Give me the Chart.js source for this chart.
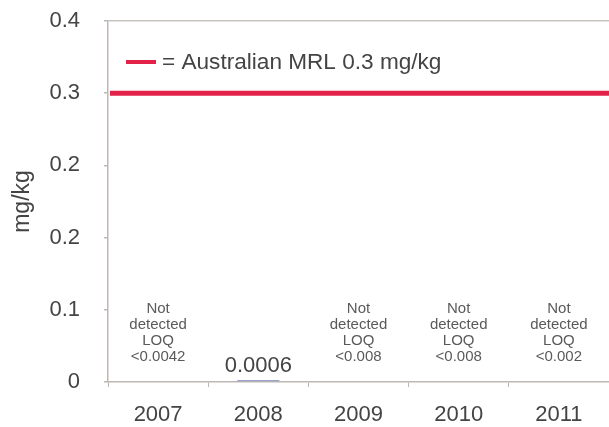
<!DOCTYPE html>
<html>
<head>
<meta charset="utf-8">
<script src="https://cdn.jsdelivr.net/npm/chart.js@4"></script>
<style>
  html, body { margin: 0; padding: 0; background: #ffffff; }
  #wrap { width: 609px; height: 427px; }
</style>
</head>
<body>
<div id="wrap"><canvas id="chart" width="609" height="427"></canvas></div>
<script>
// Residue results by year (mg/kg)
const categories = ['2007', '2008', '2009', '2010', '2011'];
const residues = [null, 0.0006, null, null, null];
const notDetectedNotes = [
  ['Not', 'detected', 'LOQ', '<0.0042'],
  null,
  ['Not', 'detected', 'LOQ', '<0.008'],
  ['Not', 'detected', 'LOQ', '<0.008'],
  ['Not', 'detected', 'LOQ', '<0.002']
];
const mrlValue = 0.3;
const mrlLabel = '= Australian MRL ' + mrlValue + ' mg/kg';
const yTickValues = [0, 0.075, 0.15, 0.225, 0.3, 0.375];
const yTickLabels = ['0', '0.1', '0.2', '0.2', '0.3', '0.4'];

const FONT = "'Liberation Sans', Arial, Helvetica, sans-serif";
const TEXT = '#444444';
const RED = '#e3224a';
const AXIS = '#bdb8b4';

// MRL reference line, legend key, value labels and "not detected" notes
const annotations = {
  id: 'annotations',
  afterDatasetsDraw(chart) {
    const { ctx, chartArea, scales } = chart;
    const x = scales.x, y = scales.y;
    ctx.save();

    // MRL line
    const yMrl = y.getPixelForValue(mrlValue);
    ctx.strokeStyle = RED;
    ctx.lineWidth = 5;
    ctx.beginPath();
    ctx.moveTo(chartArea.left + 2, yMrl);
    ctx.lineTo(chartArea.right, yMrl);
    ctx.stroke();

    // legend key
    const ly = chartArea.top + 41;
    ctx.lineWidth = 4;
    ctx.beginPath();
    ctx.moveTo(chartArea.left + 18, ly);
    ctx.lineTo(chartArea.left + 48, ly);
    ctx.stroke();
    ctx.fillStyle = TEXT;
    ctx.font = '22.6px ' + FONT;
    ctx.textAlign = 'left';
    ctx.textBaseline = 'middle';
    ctx.fillText(mrlLabel, chartArea.left + 54, ly + 1);

    // value labels above bars
    const meta = chart.getDatasetMeta(0);
    meta.data.forEach((bar, i) => {
      const v = residues[i];
      if (v === null) return;
      ctx.font = '22px ' + FONT;
      ctx.textAlign = 'center';
      ctx.textBaseline = 'middle';
      ctx.fillStyle = TEXT;
      ctx.fillText(String(v), bar.x, bar.y - 14);
    });

    // not detected notes
    const y0 = y.getPixelForValue(0);
    ctx.font = '15px ' + FONT;
    ctx.fillStyle = '#5a5a5a';
    ctx.textAlign = 'center';
    ctx.textBaseline = 'middle';
    notDetectedNotes.forEach((lines, i) => {
      if (!lines) return;
      const cx = x.getPixelForValue(i);
      lines.forEach((t, k) => {
        ctx.fillText(t, cx, y0 - 25 - (lines.length - 1 - k) * 16);
      });
    });
    ctx.restore();
  }
};

new Chart(document.getElementById('chart'), {
  type: 'bar',
  data: {
    labels: categories,
    datasets: [{
      data: residues,
      backgroundColor: '#97a3c8',
      categoryPercentage: 1,
      barPercentage: 0.42,
      minBarLength: 2
    }]
  },
  options: {
    responsive: false,
    animation: false,
    devicePixelRatio: 1,
    layout: { padding: { top: 21, right: 0, left: 0, bottom: 0 } },
    plugins: { legend: { display: false }, tooltip: { enabled: false } },
    scales: {
      x: {
        afterFit(s) { s.height = 45; },
        grid: { display: true, drawOnChartArea: false, offset: true, tickLength: 5, color: AXIS },
        border: { color: AXIS, width: 1.5 },
        ticks: { color: TEXT, font: { family: FONT, size: 22 }, padding: 15 }
      },
      y: {
        min: 0,
        max: 0.375,
        afterFit(s) { s.width = 108; s.paddingTop = 0; s.paddingBottom = 0; },
        afterBuildTicks(s) { s.ticks = yTickValues.map(v => ({ value: v })); },
        grid: {
          drawOnChartArea: true,
          tickLength: 4,
          tickColor: AXIS,
          color: ctx => (ctx.tick && ctx.tick.value === 0.375 ? '#c8c4c0' : 'rgba(0,0,0,0)'),
          lineWidth: 1.5
        },
        border: { color: AXIS, width: 1.5 },
        ticks: {
          color: TEXT,
          font: { family: FONT, size: 22 },
          padding: 24,
          callback: (v, i) => yTickLabels[i]
        },
        title: {
          display: true,
          text: 'mg/kg',
          color: TEXT,
          font: { family: FONT, size: 23 },
          padding: { top: 9, bottom: 0 }
        }
      }
    }
  },
  plugins: [annotations]
});
</script>
</body>
</html>
